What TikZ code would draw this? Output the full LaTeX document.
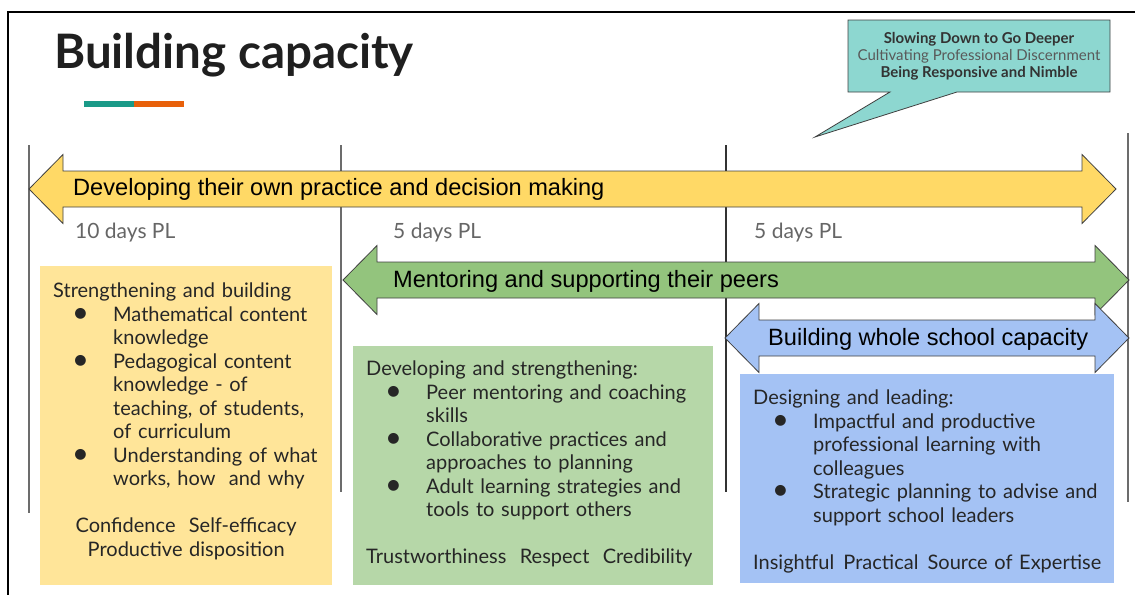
\documentclass[tikz,border=0pt]{standalone}
\usepackage{fontspec}
\usepackage{graphicx}
\setmainfont{Lato}
\newfontfamily\arrowfont{Liberation Sans}
\setlength{\parindent}{0pt}

\definecolor{sunband}{HTML}{FFD966}
\definecolor{leafband}{HTML}{93C47D}
\definecolor{skyband}{HTML}{A4C2F4}
\definecolor{sunpanel}{HTML}{FFE599}
\definecolor{leafpanel}{HTML}{B6D7A8}
\definecolor{bubblefill}{HTML}{8DD7D0}
\definecolor{bandline}{HTML}{404040}
\definecolor{daygray}{HTML}{666666}
\definecolor{inkgray}{HTML}{333333}
\definecolor{softgray}{HTML}{595959}
\definecolor{accentteal}{HTML}{1A9A88}
\definecolor{accentorange}{HTML}{E8600A}

\newcommand{\bul}{\par\hangindent=60pt\hangafter=1\noindent
  \hbox to 60pt{\hskip 19pt\smash{\raisebox{-0.8pt}{\scalebox{1.45}{\textbullet}}}\hfil}}
\newcommand{\dblarrow}[4]{%
  \draw[#1] (#2,#4) -- (#2+34,#4-34.5) -- (#2+34,#4-18) -- (#3-34,#4-18)
    -- (#3-34,#4-34.5) -- (#3,#4) -- (#3-34,#4+34.5) -- (#3-34,#4+18)
    -- (#2+34,#4+18) -- (#2+34,#4+34.5) -- cycle;}

\begin{document}
\begin{tikzpicture}[x=1pt,y=-1pt,
    rail/.style={draw=gray!85!black,line width=1.1pt},
    band/.style={draw=bandline,line width=0.8pt,line join=miter},
    bandtext/.style={font=\arrowfont\fontsize{23.6}{28}\selectfont,anchor=west,inner sep=0pt},
    days/.style={font=\fontsize{21}{24}\selectfont,text=daygray,anchor=west,inner sep=0pt},
    panel/.style={anchor=north west,inner sep=0pt},
    paneltext/.style={font=\fontsize{20}{23.5}\selectfont,text=black!85,text width=#1,
      align=left,anchor=north west,inner sep=0pt}]
    \useasboundingbox (0,0) rectangle (1135,595);

    \draw[line width=1.3pt] (1135,12) -- (8,12) -- (8,595);
    \node[anchor=base west,inner sep=0pt,text=black!88,
      font=\bfseries\fontsize{47.5}{54}\selectfont] (title) at (54,68) {Building capacity};
    \fill[accentteal] (84,101) rectangle (134,107);
    \fill[accentorange] (134,101) rectangle (184,107);

    \draw[band,fill=bubblefill] (848,20) -- (1110,20) -- (1110,92) -- (957,92)
      -- (815,137) -- (890,92) -- (848,92) -- cycle;
    \node[align=center,inner sep=0pt,text=inkgray,font=\fontsize{15}{17}\selectfont]
      (motto) at (979,56) {{\bfseries Slowing Down to Go Deeper}\\
      {\color{softgray}Cultivating Professional Discernment}\\
      {\bfseries Being Responsive and Nimble}};

    \draw[rail] (29,145) -- (29,513);
    \draw[rail] (341,145) -- (341,492);
    \draw[rail,draw=black!80] (726,145) -- (726,492);
    \draw[rail] (1128,133) -- (1128,502);

    \dblarrow{band,fill=sunband}{29}{1116}{189}
    \dblarrow{band,fill=leafband}{343}{1129}{280}
    \dblarrow{band,fill=skyband}{725}{1129}{338}
    \node[bandtext] (owntext) at (73,189) {Developing their own practice and decision making};
    \node[bandtext] (peertext) at (393,281) {Mentoring and supporting their peers};
    \node[bandtext] (schooltext) at (768,339) {Building whole school capacity};

    \node[days] (ownpl) at (75,233) {10 days PL};
    \node[days] (peerpl) at (393,233) {5 days PL};
    \node[days] (schoolpl) at (754,233) {5 days PL};

    \node[panel,fill=sunpanel,minimum width=292pt,minimum height=319pt] (ownbox) at (40,266) {};
    \node[panel,fill=leafpanel,minimum width=360pt,minimum height=239pt] (peerbox) at (353,346) {};
    \node[panel,fill=skyband,minimum width=374pt,minimum height=209pt] (schoolbox) at (740,374) {};

    \node[paneltext=266pt] (ownlist) at (53,283) {Strengthening and building
      \bul Mathematical content\newline knowledge
      \bul Pedagogical content\newline knowledge - of\newline teaching, of students,\newline of curriculum
      \bul Understanding of what\newline works, how~ and why
      \par\vskip 23.5pt
      {\centering Confidence~ Self-efficacy\\ Productive disposition\par}};
    \node[paneltext=345pt] (peerlist) at (366,361) {Developing and strengthening:
      \bul Peer mentoring and coaching\newline skills
      \bul Collaborative practices and\newline approaches to planning
      \bul Adult learning strategies and\newline tools to support others
      \par\vskip 23.5pt
      Trustworthiness~ Respect~ Credibility};
    \node[paneltext=360pt] (schoollist) at (753,390) {Designing and leading:
      \bul Impactful and productive\newline professional learning with\newline colleagues
      \bul Strategic planning to advise and\newline support school leaders
      \par\vskip 23.5pt
      Insightful\hspace{2.5pt} Practical\hspace{2.5pt} Source of Expertise};
\end{tikzpicture}
\end{document}
